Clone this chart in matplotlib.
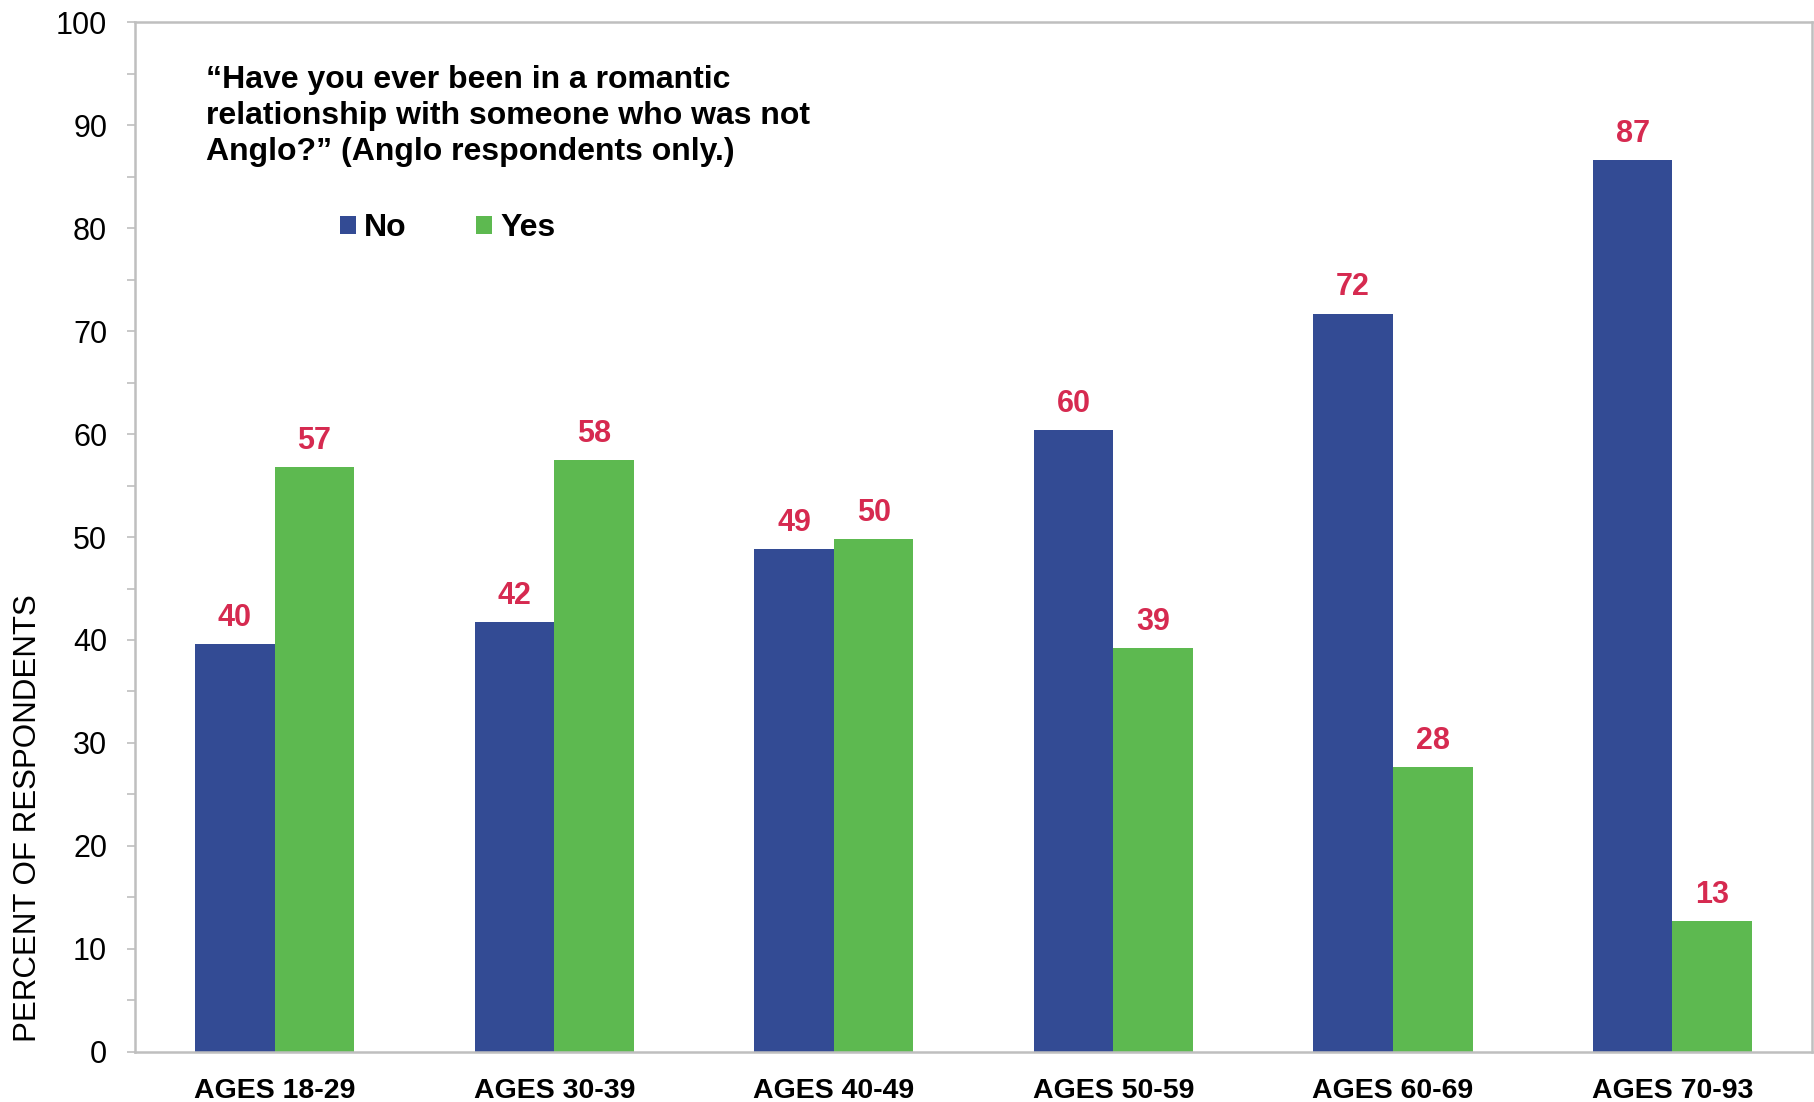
import numpy as np
import matplotlib
matplotlib.use("Agg")
import matplotlib.pyplot as plt
from matplotlib.ticker import MultipleLocator


# --- Data ---

categories = ["AGES 18-29", "AGES 30-39", "AGES 40-49",
              "AGES 50-59", "AGES 60-69", "AGES 70-93"]
no_vals = [39.6, 41.7, 48.8, 60.4, 71.7, 86.6]
yes_vals = [56.8, 57.5, 49.8, 39.2, 27.7, 12.7]
no_labels = ["40", "42", "49", "60", "72", "87"]
yes_labels = ["57", "58", "50", "39", "28", "13"]

question = ("\u201cHave you ever been in a romantic\n"
            "relationship with someone who was not\n"
            "Anglo?\u201d (Anglo respondents only.)")


# --- Style ---

plt.rcParams['font.family'] = ['Liberation Sans', 'DejaVu Sans']
blue = '#334B94'
green = '#5DB950'
label_red = '#D62A50'
grey = '#BFBFBF'

fig = plt.figure(figsize=(18.14, 11.02), dpi=100)
ax = fig.add_axes([0.0744, 0.0454, 0.9246, 0.9346])

x = np.arange(len(categories))
w = 0.285

bars_no = ax.bar(x - w / 2, no_vals, w, color=blue, label='No')
bars_yes = ax.bar(x + w / 2, yes_vals, w, color=green, label='Yes')

for rect, txt in zip(bars_no, no_labels):
    ax.annotate(txt, (rect.get_x() + rect.get_width() / 2, rect.get_height()),
                xytext=(0, 8), textcoords='offset points', ha='center',
                va='bottom', fontsize=22, fontweight='bold', color=label_red)
for rect, txt in zip(bars_yes, yes_labels):
    ax.annotate(txt, (rect.get_x() + rect.get_width() / 2, rect.get_height()),
                xytext=(0, 8), textcoords='offset points', ha='center',
                va='bottom', fontsize=22, fontweight='bold', color=label_red)


# --- Axes ---

ax.set_xlim(-0.5, len(categories) - 0.5)
ax.set_ylim(0, 100)
ax.yaxis.set_major_locator(MultipleLocator(10))
ax.yaxis.set_minor_locator(MultipleLocator(5))
ax.set_xticks(x)
ax.set_xticklabels(categories, fontsize=20.5, fontweight='bold')

for sp in ax.spines.values():
    sp.set_color(grey)
    sp.set_linewidth(1.8)

ax.tick_params(axis='y', which='both', direction='out', length=6,
               width=1.2, color=grey, labelsize=22, pad=14)
ax.tick_params(axis='x', length=0, pad=19)

ax.set_ylabel("PERCENT OF RESPONDENTS", fontsize=22.5)
ax.yaxis.set_label_coords(-0.0549, 0.227)


# --- Question text and legend ---

ax.text(0.0423, 0.958, question, transform=ax.transAxes, ha='left', va='top',
        fontsize=23, fontweight='bold', linespacing=1.25)

ax.legend(loc='center left', bbox_to_anchor=(0.122, 0.80), ncol=2,
          frameon=False, borderpad=0, borderaxespad=0,
          handlelength=0.5, handleheight=0.5, handletextpad=0.25,
          columnspacing=2.2, prop={'size': 23, 'weight': 'bold'})

fig.savefig('out.png', dpi=100)
